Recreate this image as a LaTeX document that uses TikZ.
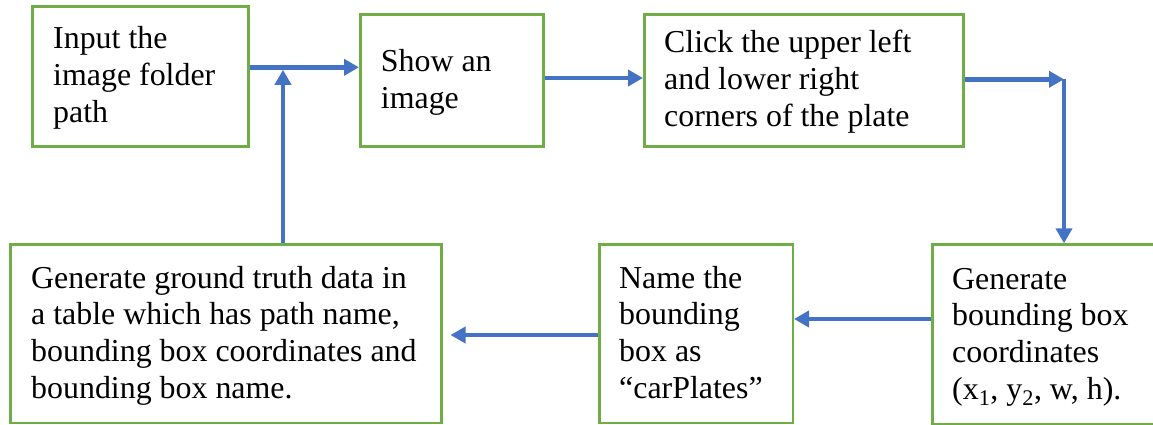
\documentclass[tikz,border=0pt]{standalone}
\usepackage{fontspec}
\setmainfont{Liberation Serif}
\usetikzlibrary{arrows.meta,calc}
\definecolor{boxgreen}{HTML}{70AD47}
\definecolor{flowblue}{HTML}{4472C4}
\begin{document}
\begin{tikzpicture}[x=1pt,y=-1pt,
  stepbox/.style={draw=boxgreen,line width=2.5pt,rectangle,inner sep=0pt,anchor=north west},
  boxtext/.style={anchor=base west,inner sep=0pt,align=left,font=\fontsize{31.9}{36.6}\selectfont},
  flow/.style={draw=flowblue,line width=4.8pt,-{Triangle[length=15pt,width=16pt]}}]
\useasboundingbox (0,0) rectangle (1153,424);
\clip (0,0) rectangle (1153,424);
% boxes
\node[stepbox,minimum width=216pt,minimum height=140pt] (b1) at (31,5) {};
\node[stepbox,minimum width=183pt,minimum height=132pt] (b2) at (359,13.3) {};
\node[stepbox,minimum width=319pt,minimum height=132pt] (b3) at (643,13.3) {};
\node[stepbox,minimum width=240pt,minimum height=179.4pt] (b4) at (931,243.3) {};
\node[stepbox,minimum width=193.5pt,minimum height=178.4pt] (b5) at (598,243.3) {};
\node[stepbox,minimum width=431pt,minimum height=178.4pt] (b6) at (9,243.3) {};
% texts (base anchor = baseline of the last line)
\node[boxtext] (t1) at (53,122) {Input the\\image folder\\path};
\node[boxtext] (t2) at (380.7,108) {Show an\\image};
\node[boxtext] (t3) at (664,126) {Click the upper left\\and lower right\\corners of the plate};
\node[boxtext] (t4) at (952,399) {Generate\\bounding box\\coordinates\\(x\textsubscript{1}, y\textsubscript{2}, w, h).};
\node[boxtext] (t5) at (619,398) {Name the\\bounding\\box as\\“carPlates”};
\node[boxtext] (t6) at (31,398) {Generate ground truth data in\\a table which has path name,\\bounding box coordinates and\\bounding box name.};
% helper coordinates
\coordinate (y1) at (0,67.3);
\coordinate (y2) at (0,78);
\coordinate (c3) at (1064,79.3);
\coordinate (y4) at (0,319);
\coordinate (y5) at (0,335);
\coordinate (x6) at (283,0);
% connectors
\draw[flow] (b1.east |- y1) -- (b2.west |- y1);
\draw[flow] (b2.east |- y2) -- (b3.west |- y2);
\draw[flow] (b3.east |- c3) -- (c3);
\draw[flow] (c3) -- (c3 |- b4.north);
\draw[flow] (b4.west |- y4) -- (b5.east |- y4);
\draw[flow,shorten >=8pt] (b5.west |- y5) -- (b6.east |- y5);
\draw[flow,shorten >=2.5pt] (x6 |- b6.north) -- (x6 |- y1);
\end{tikzpicture}
\end{document}
